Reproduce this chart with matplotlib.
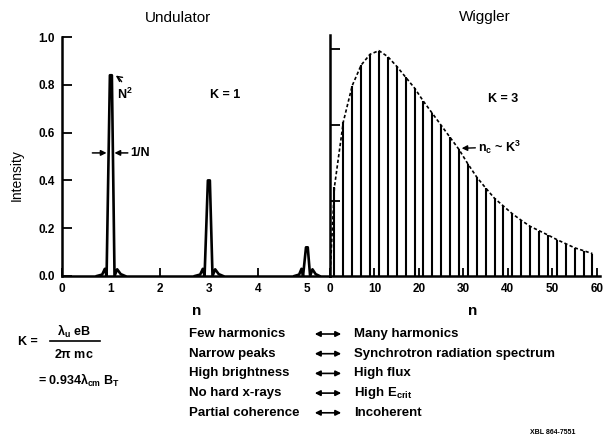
import numpy as np
import matplotlib
matplotlib.use('Agg')
import matplotlib.pyplot as plt
from matplotlib.patches import FancyArrowPatch

plt.rcParams['font.family'] = ['Liberation Sans', 'DejaVu Sans']
plt.rcParams['mathtext.fontset'] = 'custom'
plt.rcParams['mathtext.rm'] = 'Liberation Sans'
plt.rcParams['mathtext.it'] = 'Liberation Sans'
plt.rcParams['mathtext.bf'] = 'Liberation Sans:bold'

# undulator harmonics (K = 1)
und_n = [1, 3, 5]
und_height = [0.84, 0.40, 0.12]
und_halfwidth = [0.09, 0.09, 0.08]
und_ticks_x = [0, 1, 2, 3, 4, 5]
und_ticks_y = [0.0, 0.2, 0.4, 0.6, 0.8, 1.0]

# wiggler harmonics (K = 3)
wig_n = [1, 3, 5, 7, 9, 11, 13, 15, 17, 19, 21, 23, 25, 27, 29,
         31, 33, 35, 37, 39, 41, 43, 45, 47, 49, 51, 53, 55, 57, 59]
wig_height = [0.37, 0.64, 0.79, 0.875, 0.92, 0.935, 0.91, 0.87, 0.825, 0.78,
              0.725, 0.675, 0.625, 0.575, 0.525, 0.465, 0.41, 0.365, 0.322, 0.29,
              0.258, 0.231, 0.206, 0.188, 0.17, 0.151, 0.134, 0.117, 0.105, 0.093]
wig_ticks_x = [0, 10, 20, 30, 40, 50, 60]
wig_ticks_y = [0.313, 0.627, 0.94]

left_col = ['Few harmonics', 'Narrow peaks', 'High brightness', 'No hard x-rays', 'Partial coherence']
right_col = ['Many harmonics', 'Synchrotron radiation spectrum', 'High flux',
             r'High E$_{\mathbf{crit}}$', 'Incoherent']

W, H = 605, 443


def fx(px):
    return px / W


def fy(py):
    return 1 - py / H


fig = plt.figure(figsize=(6.05, 4.43), dpi=100)
ax1 = fig.add_axes([fx(62), fy(276), fx(330 - 62), (276 - 37) / H])
ax2 = fig.add_axes([fx(330), fy(276), fx(600 - 330), (276 - 35) / H])

for ax in (ax1, ax2):
    ax.spines['top'].set_visible(False)
    ax.spines['right'].set_visible(False)
    ax.spines['left'].set_linewidth(1.8)
    ax.spines['bottom'].set_linewidth(1.8)
    ax.set_ylim(0, 1.0)
    ax.tick_params(direction='in', width=1.3, labelsize=8.5, pad=5)

# undulator peaks: narrow triangles with small feet at the base
for c, h, w in zip(und_n, und_height, und_halfwidth):
    xs = [c - 3.2 * w, c - 2 * w, c - 1.4 * w, c - w, c - 0.25 * w, c + 0.2 * w,
          c + 0.8 * w, c + 1.4 * w, c + 2.2 * w, c + 3.2 * w]
    ys = [0, 0.006, 0.03, 0.0, h, h, 0.0, 0.028, 0.008, 0]
    ax1.fill(xs, ys, color='white', zorder=2)
    ax1.plot(xs, ys, color='black', lw=1.9, zorder=3)

ax1.set_xlim(0, 5.47)
ax1.set_xticks(und_ticks_x)
ax1.set_yticks(und_ticks_y)
ax1.set_xticklabels([str(v) for v in und_ticks_x], fontweight='bold')
ax1.set_yticklabels(['%.1f' % v for v in und_ticks_y], fontweight='bold')
ax1.tick_params(axis='y', length=7)
ax1.tick_params(axis='x', length=6)

ax1.annotate('N$^\\mathbf{2}$', xy=(1.05, 0.845), xytext=(1.12, 0.74), fontsize=9,
             fontweight='bold',
             arrowprops=dict(arrowstyle='->', lw=1.0, connectionstyle='arc3,rad=0.3'))
ax1.annotate('', xy=(0.91, 0.515), xytext=(0.62, 0.515),
             arrowprops=dict(arrowstyle='-|>', lw=1.1, color='black', mutation_scale=8,
                             shrinkA=0, shrinkB=0))
ax1.annotate('1/N', xy=(1.07, 0.515), xytext=(1.4, 0.515), fontsize=9, fontweight='bold',
             va='center', ha='left',
             arrowprops=dict(arrowstyle='-|>', lw=1.1, color='black', mutation_scale=8,
                             shrinkA=0, shrinkB=0))
ax1.text(3.02, 0.757, 'K = 1', fontsize=9, fontweight='bold', va='center')

# wiggler spectrum
ax2.vlines(wig_n, 0, wig_height, color='black', lw=1.5)
ax2.plot([0] + wig_n, [0] + wig_height, color='black', lw=1.2, ls=(0, (2, 1.4)))
ax2.set_xlim(0, 60.7)
ax2.set_xticks(wig_ticks_x)
ax2.set_xticklabels([str(v) for v in wig_ticks_x], fontweight='bold')
ax2.set_yticks(wig_ticks_y)
ax2.set_yticklabels([])
ax2.tick_params(axis='y', length=7)
ax2.tick_params(axis='x', length=6)
ax2.text(35.5, 0.735, 'K = 3', fontsize=9, fontweight='bold', va='center')
ax2.annotate('n$_\\mathbf{c}$ ~ K$^\\mathbf{3}$', xy=(29.6, 0.53), xytext=(33.3, 0.535),
             fontsize=9, fontweight='bold', va='center', ha='left',
             arrowprops=dict(arrowstyle='-|>', lw=1.0, color='black', mutation_scale=8,
                             shrinkA=0, shrinkB=0))

fig.text(fx(178), fy(18), 'Undulator', ha='center', va='center', fontsize=11)
fig.text(fx(485), fy(17), 'Wiggler', ha='center', va='center', fontsize=11)
fig.text(fx(17), fy(175), 'Intensity', rotation=90, ha='center', va='center', fontsize=10)
fig.text(fx(197), fy(311), 'n', ha='center', va='center', fontsize=11, fontweight='bold')
fig.text(fx(473), fy(311), 'n', ha='center', va='center', fontsize=11, fontweight='bold')

# formula for K
fig.text(fx(18), fy(342), 'K =', ha='left', va='center', fontsize=9, fontweight='bold')
fig.text(fx(74), fy(331), r'$\mathbf{\lambda_u}$ eB', ha='center', va='center', fontsize=9,
         fontweight='bold')
fig.add_artist(plt.Line2D([fx(50), fx(100)], [fy(341), fy(341)], color='black', lw=1.2))
fig.text(fx(74), fy(354), r'2$\mathbf{\pi}$ mc', ha='center', va='center', fontsize=9,
         fontweight='bold')
fig.text(fx(38), fy(380), r'= 0.934$\mathbf{\lambda_{cm}}$ B$_\mathbf{T}$', ha='left',
         va='center', fontsize=9, fontweight='bold')

# comparison table
for i, (a, b) in enumerate(zip(left_col, right_col)):
    y = fy(334 + 19.7 * i)
    fig.text(fx(189), y, a, ha='left', va='center', fontsize=9.5, fontweight='bold')
    fig.text(fx(354), y, b, ha='left', va='center', fontsize=9.5, fontweight='bold')
    fig.add_artist(FancyArrowPatch(
        (fx(312), y), (fx(344), y), transform=fig.transFigure,
        arrowstyle='<|-|>', mutation_scale=8, lw=1.2, color='black'))

fig.text(fx(575), fy(433), 'XBL 864-7551', ha='right', va='center', fontsize=5,
         fontweight='bold')

fig.savefig('out.png', dpi=100)
